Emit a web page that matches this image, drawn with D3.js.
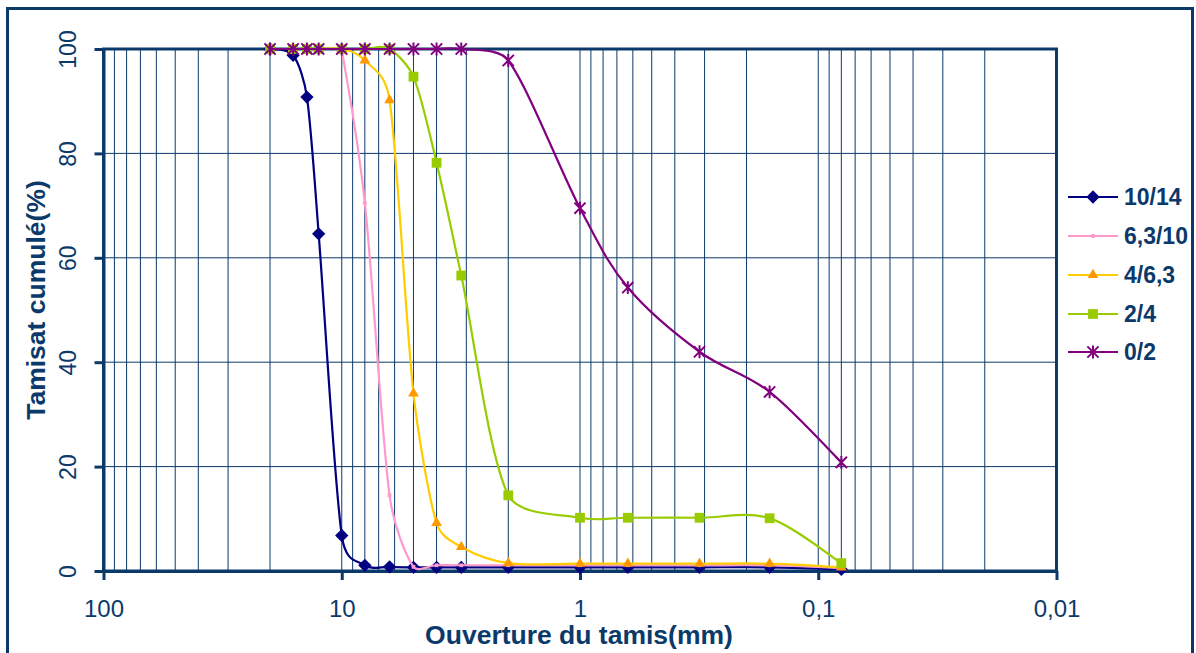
<!DOCTYPE html>
<html><head><meta charset="utf-8">
<script src="https://cdn.jsdelivr.net/npm/d3@7"></script>
<style>
body{margin:0;background:#fff}
svg{display:block}
text{font-family:Arial,"Liberation Sans",sans-serif}
</style>
</head><body>
<svg id="c" width="1196" height="653"></svg>
<script>
// ---------- data ----------
const sieves = [20,16,14,12.5,10,8,6.3,5,4,3.15,2,1,0.63,0.315,0.16,0.08];
const s10_14 = [100,98.8,90.8,64.6,6.8,1.1,0.8,0.7,0.7,0.7,0.7,0.7,0.7,0.7,0.7,0.3];
const s63_10 = [null,null,null,null,100,70.5,14.5,0.8,1.1,1.1,1.1,1.1,1.1,1.1,1.1,0.6];
const s4_63  = [100,100,100,100,100,97.8,90.2,34.0,9.2,4.6,1.5,1.4,1.4,1.4,1.4,0.7];
const s2_4   = [100,100,100,100,100,100,100,94.7,78.2,56.6,14.5,10.2,10.2,10.2,10.1,1.5];
const s0_2   = [100,100,100,100,100,100,100,100,100,100,97.8,69.5,54.3,42.0,34.3,20.8];
const seriesNames = ["10/14","6,3/10","4/6,3","2/4","0/2"];
const seriesValues = [s10_14,s63_10,s4_63,s2_4,s0_2];
const xTicks = [100,10,1,0.1,0.01];
const xTickLabels = ["100","10","1","0,1","0,01"];
const yTicks = [0,20,40,60,80,100];
const yTitle = "Tamisat cumulé(%)";
const xTitle = "Ouverture du tamis(mm)";

// ---------- styles ----------
const INK = "#0b3a6a";
const styles = [
  {line:"#000080", fill:"#000080", shape:"diamond"},
  {line:"#FF99CC", fill:"#FF99CC", shape:"small"},
  {line:"#FFCC00", fill:"#FF9900", shape:"triangle"},
  {line:"#99CC00", fill:"#99CC00", shape:"square"},
  {line:"#800080", fill:"none", stroke:"#800080", shape:"star"}
];

// Excel-like smoothed line as a d3 curve factory
function ExcelSmooth(context){ this._context = context; }
ExcelSmooth.prototype = {
  areaStart(){}, areaEnd(){},
  lineStart(){ this._p = []; },
  point(x, y){ this._p.push([+x, +y]); },
  lineEnd(){
    const p = this._p, c = this._context, n = p.length;
    if(!n) return;
    c.moveTo(p[0][0], p[0][1]);
    if(n === 1) return;
    const dist = (a,b)=>Math.hypot(a[0]-b[0], a[1]-b[1]);
    for(let i=0;i<n-1;i++){
      const p0 = p[i-1] || p[i], p1 = p[i], p2 = p[i+1], p3 = p[i+2] || p[i+1];
      const d12 = dist(p1,p2), d02 = dist(p0,p2), d13 = dist(p1,p3);
      const f = (d02/6 < d12/2) ? 1/6 : 1/12;
      const g = (d13/6 < d12/2) ? 1/6 : 1/12;
      c.bezierCurveTo(
        p1[0] + f*(p2[0]-p0[0]), p1[1] + f*(p2[1]-p0[1]),
        p2[0] - g*(p3[0]-p1[0]), p2[1] - g*(p3[1]-p1[1]),
        p2[0], p2[1]);
    }
  }
};
const curveExcel = ctx => new ExcelSmooth(ctx);

const svg = d3.select("#c");
const L = 103.5, R = 1056.5, T = 49, B = 571;
const x = d3.scaleLog().domain([100,0.01]).range([L,R]);
const y = d3.scaleLinear().domain([0,100]).range([B,T]);

// outer frame
svg.append("rect").attr("x",7.5).attr("y",8.5).attr("width",1185).attr("height",660)
  .attr("fill","#fff").attr("stroke",INK).attr("stroke-width",3);

// vertical grid (log minor + major)
const gridX = [];
[0.01,0.1,1,10].forEach(d=>{ for(let k=1;k<=9;k++){ const v=d*k; if(v>0.01 && v<100) gridX.push(v);} });
svg.append("g").selectAll("line").data(gridX).join("line")
  .attr("x1",d=>x(d)).attr("x2",d=>x(d)).attr("y1",T).attr("y2",B)
  .attr("stroke",INK).attr("stroke-width",1);
// horizontal grid
svg.append("g").selectAll("line").data(yTicks.filter(v=>v>0&&v<100)).join("line")
  .attr("x1",L).attr("x2",R).attr("y1",d=>y(d)).attr("y2",d=>y(d))
  .attr("stroke",INK).attr("stroke-width",1);

// plot border
svg.append("rect").attr("x",L).attr("y",T).attr("width",R-L).attr("height",B-T)
  .attr("fill","none").attr("stroke",INK).attr("stroke-width",3);

// axes
const xAxis = d3.axisBottom(x).tickValues(xTicks).tickSizeInner(9).tickSizeOuter(0).tickPadding(20)
  .tickFormat((d,i)=>xTickLabels[i]);
const gx = svg.append("g").attr("transform",`translate(0,${B})`).call(xAxis);
gx.select(".domain").attr("stroke",INK).attr("stroke-width",3);
gx.selectAll(".tick line").attr("stroke",INK).attr("stroke-width",3);
gx.selectAll(".tick text").attr("fill",INK).attr("font-size",24).attr("font-family","Arial, Liberation Sans, sans-serif");

const yAxis = d3.axisLeft(y).tickValues(yTicks).tickSizeInner(9).tickSizeOuter(0);
const gy = svg.append("g").attr("transform",`translate(${L},0)`).call(yAxis);
gy.select(".domain").attr("stroke",INK).attr("stroke-width",3);
gy.selectAll(".tick line").attr("stroke",INK).attr("stroke-width",3);
gy.selectAll(".tick text").attr("x",null).attr("dy",null)
  .attr("transform","translate(-28,0) rotate(-90)").attr("text-anchor","middle")
  .attr("fill",INK).attr("font-size",23).attr("font-family","Arial, Liberation Sans, sans-serif");

// titles
svg.append("text").attr("x",579).attr("y",644).attr("text-anchor","middle")
  .attr("font-size",26.5).attr("font-weight","bold").attr("fill",INK).text(xTitle);
svg.append("text").attr("transform","translate(45,300) rotate(-90)").attr("text-anchor","middle")
  .attr("font-size",26.5).attr("font-weight","bold").attr("fill",INK).text(yTitle);

// marker helper
function drawMarker(sel, st){
  if(st.shape==="diamond"){
    sel.append("path").attr("d",d3.symbol(d3.symbolSquare,88)()).attr("transform","rotate(45)")
      .attr("fill",st.fill);
  } else if(st.shape==="small"){
    sel.append("path").attr("d",d3.symbol(d3.symbolSquare,14)()).attr("fill",st.fill);
  } else if(st.shape==="triangle"){
    sel.append("path").attr("d",d3.symbol(d3.symbolTriangle,50)()).attr("fill",st.fill);
  } else if(st.shape==="square"){
    sel.append("path").attr("d",d3.symbol(d3.symbolSquare,96)()).attr("fill",st.fill);
  } else {
    const r=5.6;
    sel.append("path").attr("d",`M${-r},${-r}L${r},${r}M${-r},${r}L${r},${-r}M0,${-r-0.8}L0,${r+0.8}`)
      .attr("fill","none").attr("stroke",st.stroke).attr("stroke-width",2);
  }
}

// series
const line = d3.line().defined(d=>d[1]!=null).x(d=>x(d[0])).y(d=>y(d[1])).curve(curveExcel);
seriesValues.forEach((vals,si)=>{
  const st = styles[si];
  const pts = sieves.map((s,i)=>[s,vals[i]]);
  const g = svg.append("g");
  g.append("path").datum(pts).attr("d",line).attr("fill","none")
    .attr("stroke",st.line).attr("stroke-width",2.2).attr("stroke-linejoin","round");
  const m = g.selectAll("g.m").data(pts.filter(d=>d[1]!=null)).join("g").attr("class","m")
    .attr("transform",d=>`translate(${x(d[0])},${y(d[1])})`);
  drawMarker(m, st);
});

// legend
const lg = svg.append("g");
const legY = [197,236,275,314,352];
seriesNames.forEach((name,i)=>{
  const st = styles[i];
  const g = lg.append("g").attr("transform",`translate(0,${legY[i]})`);
  g.append("line").attr("x1",1068).attr("x2",1118).attr("y1",0).attr("y2",0)
    .attr("stroke",st.line).attr("stroke-width",2.2);
  const mg = g.append("g").attr("transform","translate(1093,0)");
  drawMarker(mg, st);
  g.append("text").attr("x",1124).attr("y",8).attr("font-size",23).attr("font-weight","bold")
    .attr("fill",INK).text(name);
});
</script>
</body></html>
